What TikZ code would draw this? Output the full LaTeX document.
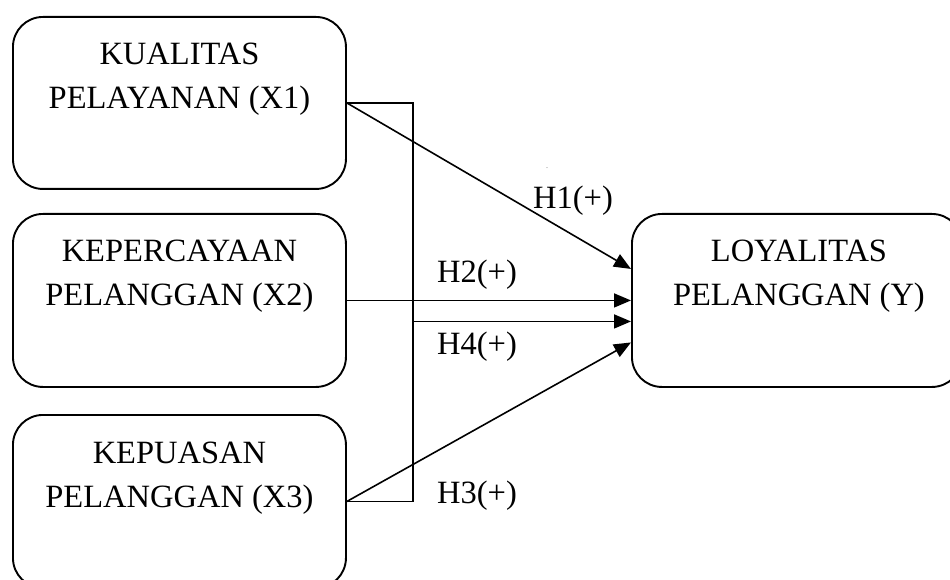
\documentclass[tikz,border=0pt]{standalone}
\usepackage{fontspec}
\setmainfont{Liberation Serif}
\usetikzlibrary{arrows.meta,calc}
\tikzset{
  varbox/.style={draw, line width=1.9pt, rounded corners=30pt, inner sep=0pt, anchor=north west},
  lbl/.style={font=\fontsize{32.5}{43.5}\selectfont, align=center, inner sep=0pt, anchor=north},
  hlbl/.style={font=\fontsize{32.5}{38}\selectfont, inner sep=0pt},
  conn/.style={line width=1.6pt},
  arr/.style={line width=1.6pt, -{Triangle[length=17pt,width=14pt]}}
}
\begin{document}
\begin{tikzpicture}[x=1pt,y=-1pt]
\useasboundingbox (0,0) rectangle (950,580);
% boxes
\node[varbox, minimum width=333pt, minimum height=172pt] (x1) at (12,16) {};
\node[varbox, minimum width=333pt, minimum height=173pt] (x2) at (12,213) {};
\node[varbox, minimum width=333pt, minimum height=173pt] (x3) at (12,414) {};
\node[varbox, minimum width=330pt, minimum height=173pt] (y) at (631,213) {};
% labels
\node[lbl] (tx1) at ($(x1.north)+(0,27)$) {KUALITAS\\PELAYANAN (X1)};
\node[lbl] (tx2) at ($(x2.north)+(0,27)$) {KEPERCAYAAN\\PELANGGAN (X2)};
\node[lbl] (tx3) at ($(x3.north)+(0,28)$) {KEPUASAN\\PELANGGAN (X3)};
\node[lbl] (ty) at ($(y.north)+(2,27)$) {LOYALITAS\\PELANGGAN (Y)};
% bracket
\coordinate (bt) at ($(x1.east)+(66,0)$);
\coordinate (bb) at ($(x3.east)+(66,0)$);
\draw[conn] (x1.east) -- (bt) -- (bb) -- (x3.east);
% arrows
\coordinate (e1) at ($(y.west)+(0,-31.5)$);
\coordinate (e4) at ($(y.west)+(0,21)$);
\coordinate (e3) at ($(y.west)+(0,42)$);
\draw[arr] (x1.east) -- (e1);
\draw[arr] (x2.east) -- (x2.east -| y.west);
\draw[arr] (bt |- e4) -- (e4);
\draw[arr] (x3.east) -- (e3);
% hypothesis labels
\node[hlbl] (h1) at (573,201) {H1(+)};
\node[hlbl] (h2) at (477,275) {H2(+)};
\node[hlbl] (h4) at (477,347) {H4(+)};
\node[hlbl] (h3) at (477,496) {H3(+)};
\node[inner sep=0pt, font=\fontsize{6}{6}\selectfont] (dot) at (547,168) {.};
\end{tikzpicture}
\end{document}
